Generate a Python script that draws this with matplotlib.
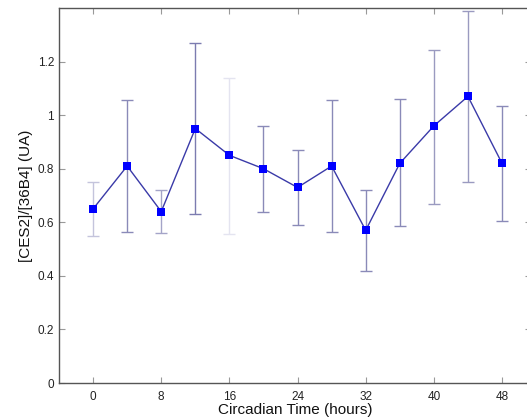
import matplotlib
matplotlib.use("Agg")
import matplotlib.pyplot as plt

# Data
hours = [0, 4, 8, 12, 16, 20, 24, 28, 32, 36, 40, 44, 48]
values = [0.65, 0.81, 0.64, 0.95, 0.85, 0.80, 0.73, 0.81, 0.57, 0.82, 0.96, 1.07, 0.82]
err_low = [0.10, 0.245, 0.08, 0.32, 0.295, 0.16, 0.14, 0.245, 0.15, 0.235, 0.29, 0.32, 0.215]
err_high = [0.10, 0.245, 0.08, 0.32, 0.29, 0.16, 0.14, 0.245, 0.15, 0.24, 0.285, 0.32, 0.215]
xticks = [0, 8, 16, 24, 32, 40, 48]
yticks = [0, 0.2, 0.4, 0.6, 0.8, 1.0, 1.2]
ytick_labels = ["0", "0.2", "0.4", "0.6", "0.8", "1", "1.2"]

plt.rcParams['font.family'] = ['Liberation Sans', 'DejaVu Sans']

W, H = 527, 418
fig = plt.figure(figsize=(W / 100, H / 100), dpi=100)
ax = fig.add_axes([59 / W, 1 - 383 / H, (531 - 59) / W, (383 - 8) / H])

err_colors = ['#c4c4dc', '#8a8ab8', '#a4a4c8', '#7c7cb0', '#e4e4f0', '#8a8ab8',
              '#8a8ab8', '#8a8ab8', '#8a8ab8', '#8a8ab8', '#9a9ac0', '#9a9ac0', '#8a8ab8']
for x, y, lo, hi, c in zip(hours, values, err_low, err_high, err_colors):
    ax.errorbar([x], [y], yerr=[[lo], [hi]], fmt='none', ecolor=c,
                elinewidth=1.0, capsize=4, capthick=1.0, zorder=1)

ax.plot(hours, values, '-', color='#3a3aa8', linewidth=1.0, zorder=2)
ax.plot(hours, values, 's', color='#0000ff', markersize=5.5, zorder=3,
        markeredgewidth=0)

ax.set_xlim(-4, 51.4)
ax.set_ylim(0, 1.4)
ax.set_xticks(xticks)
ax.set_yticks(yticks)
ax.set_yticklabels(ytick_labels)
ax.tick_params(direction='in', length=4, width=0.8, color='#999999',
               labelsize=8.5, labelcolor='#222222', top=True, right=True)
ax.tick_params(axis='x', pad=6)
for s in ax.spines.values():
    s.set_color('#555555')
    s.set_linewidth(1.0)
ax.spines['right'].set_visible(False)

ax.set_xlabel('Circadian Time (hours)', fontsize=11, labelpad=0, color='#111111')
ax.set_ylabel('[CES2]/[36B4] (UA)', fontsize=11, labelpad=3, color='#111111')

fig.savefig('out.png', dpi=100)
